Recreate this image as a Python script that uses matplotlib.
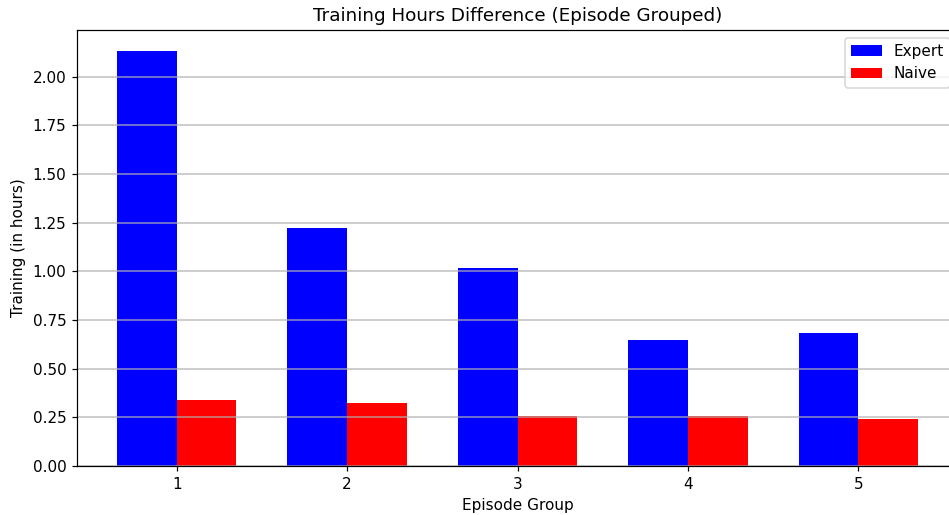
import numpy as np
import matplotlib
matplotlib.use("Agg")
import matplotlib.pyplot as plt

# episode groups and mean training hours per group
groups = [1, 2, 3, 4, 5]
expert_hours = [2.134, 1.224, 1.018, 0.648, 0.682]
naive_hours = [0.339, 0.325, 0.257, 0.257, 0.242]

width = 0.35
x = np.array(groups)

DPI = 110
fig = plt.figure(figsize=(949 / DPI, 515 / DPI), dpi=DPI)
# axes runs a little past the right edge, like the original crop
ax = fig.add_axes([77 / 949, 49 / 515, 881 / 949, 436 / 515])

ax.bar(x - width / 2, expert_hours, width, color='blue', label='Expert')
ax.bar(x + width / 2, naive_hours, width, color='red', label='Naive')

ax.set_xticks(x)
ax.set_xlabel('Episode Group')
ax.set_ylabel('Training (in hours)')
ax.set_title('Training Hours Difference (Episode Grouped)')
ax.grid(axis='y', color='#b0b0b0', linewidth=1.0, alpha=0.8)
ax.legend(loc='upper right')

plt.savefig("out.png", dpi=DPI)
